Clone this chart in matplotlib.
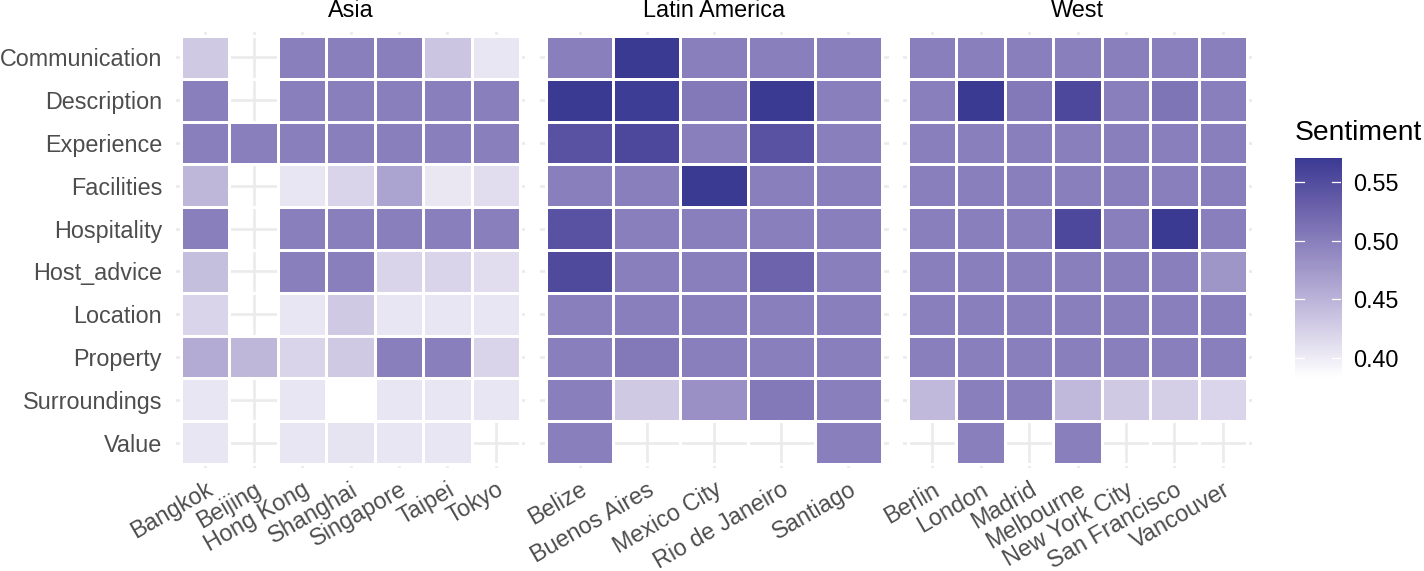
import numpy as np
import matplotlib
matplotlib.use("Agg")
import matplotlib.pyplot as plt
from matplotlib.colors import ListedColormap

plt.rcParams['font.family'] = ['Liberation Sans', 'DejaVu Sans']

nan = np.nan

aspects = ["Communication", "Description", "Experience", "Facilities", "Hospitality",
           "Host_advice", "Location", "Property", "Surroundings", "Value"]

regions = ["Asia", "Latin America", "West"]

asia_cities = ["Bangkok", "Beijing", "Hong Kong", "Shanghai", "Singapore", "Taipei", "Tokyo"]
asia_values = [
    [0.430, nan, 0.500, 0.500, 0.500, 0.435, 0.405],
    [0.500, nan, 0.500, 0.500, 0.500, 0.500, 0.500],
    [0.500, 0.500, 0.500, 0.500, 0.500, 0.500, 0.500],
    [0.447, nan, 0.405, 0.421, 0.465, 0.404, 0.413],
    [0.500, nan, 0.500, 0.500, 0.500, 0.500, 0.500],
    [0.440, nan, 0.500, 0.500, 0.421, 0.421, 0.413],
    [0.421, nan, 0.405, 0.430, 0.405, 0.405, 0.405],
    [0.458, 0.447, 0.421, 0.430, 0.500, 0.500, 0.421],
    [0.405, nan, 0.405, 0.383, 0.405, 0.405, 0.405],
    [0.405, nan, 0.405, 0.407, 0.405, 0.405, nan],
]

latam_cities = ["Belize", "Buenos Aires", "Mexico City", "Rio de Janeiro", "Santiago"]
latam_values = [
    [0.500, 0.571, 0.500, 0.500, 0.500],
    [0.571, 0.568, 0.505, 0.571, 0.500],
    [0.545, 0.555, 0.500, 0.545, 0.500],
    [0.500, 0.500, 0.571, 0.500, 0.500],
    [0.545, 0.500, 0.500, 0.500, 0.500],
    [0.553, 0.500, 0.500, 0.527, 0.500],
    [0.500, 0.500, 0.500, 0.500, 0.500],
    [0.500, 0.505, 0.500, 0.500, 0.500],
    [0.500, 0.430, 0.483, 0.505, 0.500],
    [0.500, nan, nan, nan, 0.500],
]

west_cities = ["Berlin", "London", "Madrid", "Melbourne", "New York City", "San Francisco", "Vancouver"]
west_values = [
    [0.500, 0.500, 0.500, 0.500, 0.500, 0.500, 0.500],
    [0.500, 0.571, 0.505, 0.555, 0.500, 0.510, 0.500],
    [0.500, 0.500, 0.500, 0.500, 0.500, 0.500, 0.500],
    [0.500, 0.500, 0.500, 0.500, 0.500, 0.500, 0.500],
    [0.500, 0.500, 0.500, 0.555, 0.500, 0.571, 0.500],
    [0.500, 0.500, 0.500, 0.500, 0.500, 0.500, 0.478],
    [0.500, 0.500, 0.500, 0.500, 0.500, 0.500, 0.500],
    [0.500, 0.500, 0.500, 0.500, 0.500, 0.500, 0.500],
    [0.445, 0.500, 0.500, 0.445, 0.430, 0.425, 0.420],
    [nan, 0.500, nan, 0.500, nan, nan, nan],
]

colorbar_ticks = [0.40, 0.45, 0.50, 0.55]


# gradient white -> dark blue, interpolated in Lab like ggplot does
WHITE_REF = np.array([0.95047, 1.0, 1.08883])
M = np.array([[0.4124, 0.3576, 0.1805],
              [0.2126, 0.7152, 0.0722],
              [0.0193, 0.1192, 0.9505]])


def to_lab(hexcol):
    c = np.array([int(hexcol[i:i + 2], 16) / 255 for i in (1, 3, 5)])
    lin = np.where(c <= 0.04045, c / 12.92, ((c + 0.055) / 1.055) ** 2.4)
    t = M @ lin / WHITE_REF
    f = np.where(t > 0.008856, np.cbrt(t), 7.787 * t + 16 / 116)
    return np.array([116 * f[1] - 16, 500 * (f[0] - f[1]), 200 * (f[1] - f[2])])


def from_lab(lab):
    fy = (lab[0] + 16) / 116
    f = np.array([fy + lab[1] / 500, fy, fy - lab[2] / 200])
    t = np.where(f ** 3 > 0.008856, f ** 3, (f - 16 / 116) / 7.787)
    lin = np.linalg.solve(M, t * WHITE_REF)
    lin = np.clip(lin, 0, 1)
    c = np.where(lin <= 0.0031308, 12.92 * lin, 1.055 * lin ** (1 / 2.4) - 0.055)
    return np.clip(c, 0, 1)


lo, hi = to_lab("#FFFFFF"), to_lab("#3A3A93")
cmap = ListedColormap([from_lab(lo + (hi - lo) * s) for s in np.linspace(0, 1, 256)])

all_vals = np.concatenate([np.ravel(asia_values), np.ravel(latam_values), np.ravel(west_values)])
vmin, vmax = np.nanmin(all_vals), np.nanmax(all_vals)

W, H = 1424, 571
fig = plt.figure(figsize=(W / 100, H / 100), dpi=100)


def px_axes(x0, y0, x1, y1):
    return fig.add_axes([x0 / W, 1 - y1 / H, (x1 - x0) / W, (y1 - y0) / H])


panels = [
    ("Asia", asia_cities, asia_values, 176),
    ("Latin America", latam_cities, latam_values, 539.5),
    ("West", west_cities, west_values, 903),
]

for i, (name, cities, vals, x0) in enumerate(panels):
    ax = px_axes(x0, 31.7, x0 + 349, 468.3)
    z = np.ma.masked_invalid(np.array(vals))
    n = len(cities)
    ax.set_axisbelow(True)
    ax.pcolormesh(np.arange(n + 1) - 0.5, np.arange(len(aspects) + 1) - 0.5, z,
                  cmap=cmap, vmin=vmin, vmax=vmax, edgecolors="white", linewidth=0.8)
    ax.set_xlim(-0.6, n - 0.4)
    ax.set_ylim(len(aspects) - 0.4, -0.6)
    ax.set_xticks(range(n))
    ax.set_xticklabels(cities, rotation=30, ha="right", va="top",
                       rotation_mode="anchor", fontsize=16.8, color="#4D4D4D")
    ax.set_yticks(range(len(aspects)))
    if i == 0:
        ax.set_yticklabels(aspects, fontsize=16.8, color="#4D4D4D")
    else:
        ax.set_yticklabels([])
    ax.tick_params(length=0, pad=10)
    ax.tick_params(axis="x", pad=7)
    ax.grid(True, color="#EBEBEB", linewidth=1.9)
    for s in ax.spines.values():
        s.set_visible(False)
    ax.text(0.5, 1 + 21 / 436.6, name, transform=ax.transAxes, ha="center", va="center",
            fontsize=16.8, color="black")

# colorbar
cax = px_axes(1295, 157.7, 1341, 378)
grad = np.linspace(vmin, vmax, 300).reshape(-1, 1)
cax.imshow(grad, cmap=cmap, vmin=vmin, vmax=vmax, aspect="auto", origin="lower",
           extent=[0, 1, vmin, vmax])
cax.set_xlim(0, 1)
cax.set_ylim(vmin, vmax)
cax.set_xticks([])
cax.yaxis.tick_right()
cax.set_yticks(colorbar_ticks)
cax.set_yticklabels([f"{t:.2f}" for t in colorbar_ticks], fontsize=16.8, color="black")
cax.tick_params(length=0, pad=9)
for t in colorbar_ticks:
    cax.plot([0, 0.2], [t, t], color="white", linewidth=0.9)
    cax.plot([0.8, 1], [t, t], color="white", linewidth=0.9)
for s in cax.spines.values():
    s.set_visible(False)
fig.text(1295 / W, 1 - 133 / H, "Sentiment", ha="left", va="center", fontsize=20.3, color="black")

fig.savefig("out.png", dpi=100)
